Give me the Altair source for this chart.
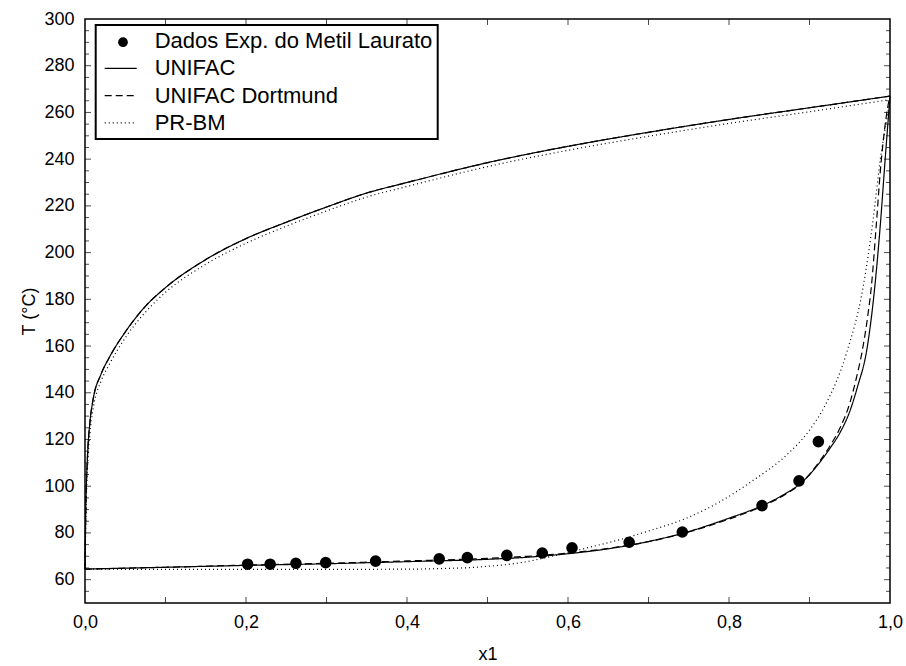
import altair as alt
import pandas as pd

FONT = "Liberation Sans"

SERIES = ["Dados Exp. do Metil Laurato", "UNIFAC", "UNIFAC Dortmund", "PR-BM"]

# Experimental data
EXP_X = [0.202, 0.230, 0.262, 0.299, 0.361, 0.440, 0.475, 0.524, 0.568, 0.605, 0.676, 0.742, 0.841, 0.887, 0.911]
EXP_T = [66.6, 66.6, 67.0, 67.3, 67.9, 68.9, 69.4, 70.4, 71.4, 73.6, 76.0, 80.4, 91.7, 102.3, 119.1]

# UNIFAC - bubble (lower) and dew (upper)
UNI_LX = [0, 0.1, 0.2, 0.3, 0.4, 0.5, 0.55, 0.6, 0.65, 0.7, 0.75, 0.8, 0.84, 0.87, 0.89, 0.91, 0.925, 0.938, 0.95, 0.96, 0.971, 0.981, 0.988, 0.994, 0.998, 1.0]
UNI_LT = [64.5, 65.3, 66.1, 66.8, 67.7, 68.7, 69.6, 71.1, 73.2, 76.3, 80.6, 86.3, 91.5, 96.8, 101.5, 109, 116, 123, 132, 143, 158, 185, 212, 240, 258, 267]
UNI_UX = [0, 0.001, 0.003, 0.006, 0.01, 0.02, 0.03, 0.05, 0.075, 0.1, 0.15, 0.2, 0.25, 0.3, 0.35, 0.4, 0.5, 0.6, 0.7, 0.8, 0.9, 1.0]
UNI_UT = [64.5, 90, 112, 127, 137, 148, 155, 166, 177, 185, 197, 206, 213, 219.5, 225.5, 230, 238.5, 245.5, 251.5, 257, 262, 267]

# UNIFAC Dortmund
DOR_LX = [0, 0.1, 0.2, 0.3, 0.4, 0.5, 0.55, 0.6, 0.65, 0.7, 0.75, 0.8, 0.84, 0.87, 0.89, 0.91, 0.925, 0.938, 0.95, 0.958, 0.965, 0.972, 0.977, 0.983, 0.988, 0.993, 0.997, 1.0]
DOR_LT = [64.5, 65.3, 66.2, 67.0, 68.0, 69.1, 70.0, 71.4, 73.4, 76.3, 80.4, 85.9, 91.2, 96.5, 101.3, 109.5, 117, 125, 135.5, 146, 157, 172, 186, 212, 235, 252, 262, 267]
DOR_UX = [0, 0.001, 0.003, 0.006, 0.01, 0.02, 0.03, 0.05, 0.075, 0.1, 0.15, 0.2, 0.25, 0.3, 0.35, 0.4, 0.5, 0.6, 0.7, 0.8, 0.9, 1.0]
DOR_UT = [64.5, 90, 112, 127, 137, 148, 155, 166, 177, 185, 197, 206, 213, 219.5, 225.5, 230, 238.5, 245.5, 251.5, 257, 262, 267]

# PR-BM
PR_LX = [0, 0.1, 0.2, 0.3, 0.4, 0.45, 0.48, 0.5, 0.54, 0.58, 0.62, 0.665, 0.7, 0.747, 0.789, 0.83, 0.872, 0.9, 0.92, 0.946, 0.967, 0.979, 0.988, 0.996, 1.0]
PR_LT = [64.5, 64.4, 64.4, 64.4, 64.5, 64.8, 65.2, 65.7, 67.2, 70.0, 73.3, 77.2, 80.8, 86.3, 93.4, 102.5, 113.5, 124, 135, 157, 186, 214, 240, 257, 265.5]
PR_UX = [0, 0.001, 0.003, 0.006, 0.01, 0.02, 0.03, 0.05, 0.075, 0.1, 0.15, 0.2, 0.25, 0.3, 0.35, 0.4, 0.5, 0.6, 0.7, 0.8, 0.9, 1.0]
PR_UT = [64.5, 86, 107, 122, 133, 145, 152, 163.5, 174.5, 183, 195, 204, 211.3, 217.8, 223.8, 228.3, 236.8, 243.8, 249.8, 255.3, 260.3, 265.5]

# Axis tick values
X_LABELS = [0.0, 0.2, 0.4, 0.6, 0.8, 1.0]
X_TICKS = [0.1, 0.2, 0.3, 0.4, 0.5, 0.6, 0.7, 0.8, 0.9]
Y_LABELS = [60, 80, 100, 120, 140, 160, 180, 200, 220, 240, 260, 280, 300]
Y_MAJOR = [60, 80, 100, 120, 140, 160, 180, 200, 220, 240, 260, 280]
Y_MINOR = [v for v in range(55, 300, 5) if v % 20 != 0]

rows = []
for s, b, xs, ts in [
    (SERIES[1], "L", UNI_LX, UNI_LT), (SERIES[1], "U", UNI_UX, UNI_UT),
    (SERIES[2], "L", DOR_LX, DOR_LT), (SERIES[2], "U", DOR_UX, DOR_UT),
    (SERIES[3], "L", PR_LX, PR_LT), (SERIES[3], "U", PR_UX, PR_UT),
]:
    for x, t in zip(xs, ts):
        rows.append({"x": x, "T": t, "series": s, "branch": s + b})
lines_df = pd.DataFrame(rows)
pts_df = pd.DataFrame({"x": EXP_X, "T": EXP_T, "series": [SERIES[0]] * len(EXP_X)})

xscale = alt.Scale(domain=[0, 1], nice=False, zero=False)
yscale = alt.Scale(domain=[50, 300], nice=False, zero=False)

xaxis = alt.Axis(values=X_LABELS, labelExpr="replace(format(datum.value, '.1f'), '.', ',')",
                 title="x1", ticks=False, tickSize=0, domain=False, grid=False,
                 labelPadding=10, titlePadding=14, labelFontSize=18, titleFontSize=18,
                 labelFont=FONT, titleFont=FONT, titleFontWeight="normal",
                 labelColor="black", titleColor="black", labelFlush=False)
yaxis = alt.Axis(values=Y_LABELS, title="T (°C)", ticks=False, tickSize=0, domain=False, grid=False,
                 labelPadding=11, titlePadding=5, labelFontSize=18, titleFontSize=18,
                 labelFont=FONT, titleFont=FONT, titleFontWeight="normal",
                 labelColor="black", titleColor="black")

# Legend with the four labels and the line samples (box drawn here)
line_leg = alt.Legend(title=None, orient="none", legendX=10.7, legendY=6,
                      symbolType="stroke", symbolSize=1024, symbolStrokeWidth=1.2,
                      symbolStrokeColor="black", symbolOffset=3,
                      labelFontSize=22, labelFont=FONT, labelColor="black", labelOffset=17,
                      labelLimit=500, strokeColor="black", padding=5,
                      rowPadding=5.3, clipHeight=22, cornerRadius=0)

# Legend that only supplies the filled circle on the first row (no text of its own)
dot_leg = alt.Legend(title=None, orient="none", legendX=27, legendY=12.2,
                     symbolType="circle", symbolSize=95, symbolFillColor="black",
                     symbolStrokeColor="black", symbolStrokeWidth=0,
                     labelFontSize=22, labelExpr="''", labelLimit=500, padding=0)

lines = alt.Chart(lines_df).mark_line(strokeWidth=1.2, color="black", interpolate="monotone").encode(
    x=alt.X("x:Q", scale=xscale, axis=xaxis),
    y=alt.Y("T:Q", scale=yscale, axis=yaxis),
    strokeDash=alt.StrokeDash("series:N", sort=SERIES,
                              scale=alt.Scale(domain=SERIES, range=[[0, 1000], [1, 0], [7, 4], [1, 3]]),
                              legend=line_leg),
    detail="branch:N",
)

points = alt.Chart(pts_df).mark_point(filled=True, color="black", opacity=1, size=135).encode(
    x=alt.X("x:Q", scale=xscale, axis=xaxis),
    y=alt.Y("T:Q", scale=yscale, axis=yaxis),
    shape=alt.Shape("series:N", scale=alt.Scale(domain=[SERIES[0]], range=["circle"]),
                    legend=dot_leg),
)

xt_df = pd.DataFrame({"x": X_TICKS})
ymaj_df = pd.DataFrame({"T": Y_MAJOR})
ymin_df = pd.DataFrame({"T": Y_MINOR})

def xticks(yval, off):
    return alt.Chart(xt_df).mark_tick(orient="vertical", size=6, thickness=1, color="black", yOffset=off).encode(
        x=alt.X("x:Q", scale=xscale, axis=xaxis),
        y=alt.YDatum(yval, scale=yscale, axis=yaxis),
    )

def yticks(df, xval, size, off):
    return alt.Chart(df).mark_tick(orient="horizontal", size=size, thickness=1, color="black", xOffset=off).encode(
        x=alt.XDatum(xval, scale=xscale, axis=xaxis),
        y=alt.Y("T:Q", scale=yscale, axis=yaxis),
    )

chart = alt.layer(
    lines, points,
    xticks(50, -3), xticks(300, 3),
    yticks(ymaj_df, 0, 6, 3), yticks(ymaj_df, 1, 6, -3),
    yticks(ymin_df, 0, 4, 2), yticks(ymin_df, 1, 4, -2),
).properties(
    width=805, height=584,
    padding={"left": 85, "top": 19, "right": 16, "bottom": 63},
    autosize=alt.AutoSizeParams(type="none"),
).configure_view(
    stroke="black", strokeWidth=1.5
).configure_legend(
    strokeWidth=2
)

chart.save("out.html", embed_options={"renderer": "svg", "actions": False})
